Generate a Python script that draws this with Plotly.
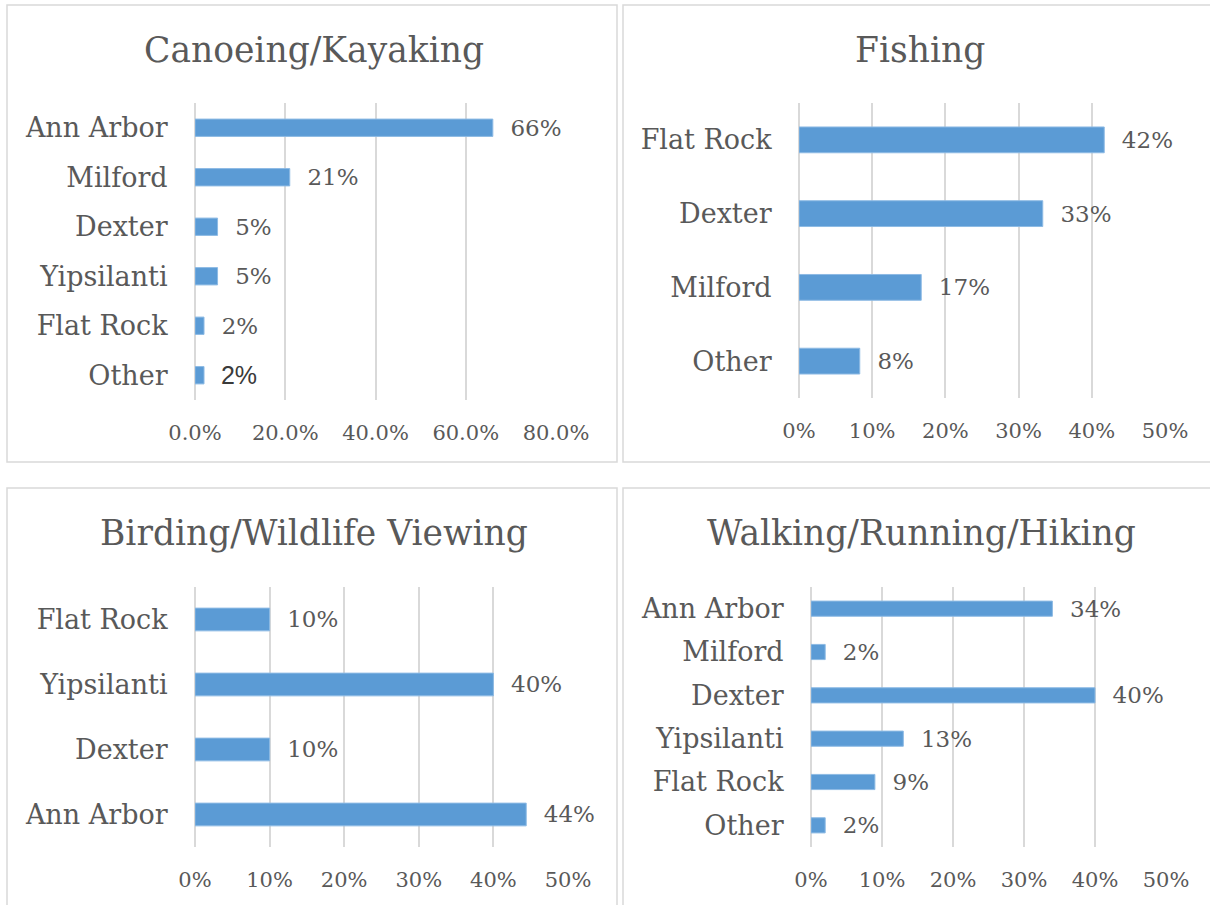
import plotly.graph_objects as go

W, H = 1210, 905

# ---- data ----
canoe_places = ["Ann Arbor", "Milford", "Dexter", "Yipsilanti", "Flat Rock", "Other"]
canoe_values = [0.66, 0.21, 0.05, 0.05, 0.02, 0.02]
canoe_ticks = [0, 0.2, 0.4, 0.6, 0.8]
canoe_ticktext = ["0.0%", "20.0%", "40.0%", "60.0%", "80.0%"]

fish_places = ["Flat Rock", "Dexter", "Milford", "Other"]
fish_values = [0.417, 0.333, 0.167, 0.083]

bird_places = ["Flat Rock", "Yipsilanti", "Dexter", "Ann Arbor"]
bird_values = [0.10, 0.40, 0.10, 0.444]

walk_places = ["Ann Arbor", "Milford", "Dexter", "Yipsilanti", "Flat Rock", "Other"]
walk_values = [0.34, 0.02, 0.40, 0.13, 0.09, 0.02]

pct_ticks = [0, 0.1, 0.2, 0.3, 0.4, 0.5]
pct_ticktext = ["0%", "10%", "20%", "30%", "40%", "50%"]

titles = ["Canoeing/Kayaking", "Fishing", "Birding/Wildlife Viewing", "Walking/Running/Hiking"]

# ---- style ----
SERIF = "DejaVu Serif"
TEXT = "#595959"
BAR = "#5b9bd5"
GRID = "#d9d9d9"


def px_x(v):
    return v / W


def px_y(v):
    return 1 - v / H


def add_panel(fig, idx, places, values, xdom, ydom, tickvals, ticktext, xmax,
              text_family=None, text_color=None, text_size=None):
    sfx = "" if idx == 1 else str(idx)
    n = len(places)
    fig.add_trace(
        go.Bar(
            x=values,
            y=places,
            orientation="h",
            width=0.35,
            marker_color=BAR,
            marker_line_color="#8dbae4",
            marker_line_width=1,
            texttemplate="\u00a0\u00a0%{x:.0%}",
            textposition="outside",
            constraintext="none",
            cliponaxis=False,
            textfont=dict(
                family=text_family or SERIF,
                color=text_color or TEXT,
                size=text_size or 23,
            ),
            showlegend=False,
            hoverinfo="skip",
            xaxis="x" + sfx,
            yaxis="y" + sfx,
        )
    )
    fig.layout["xaxis" + sfx] = dict(
        domain=[px_x(xdom[0]), px_x(xdom[1])],
        anchor="y" + sfx,
        range=[0, xmax],
        tickvals=tickvals,
        ticktext=ticktext,
        showgrid=True,
        gridcolor=GRID,
        gridwidth=1.5,
        zeroline=True,
        zerolinecolor=GRID,
        zerolinewidth=1.5,
        showline=False,
        automargin=False,
        ticks="outside",
        ticklen=14,
        tickcolor="rgba(0,0,0,0)",
        tickfont=dict(family=SERIF, size=21, color=TEXT),
        fixedrange=True,
    )
    fig.layout["yaxis" + sfx] = dict(
        domain=[px_y(ydom[1]), px_y(ydom[0])],
        anchor="x" + sfx,
        type="category",
        range=[n - 0.5, -0.5],
        showgrid=False,
        zeroline=False,
        showline=False,
        automargin=False,
        ticks="outside",
        ticklen=21,
        tickcolor="rgba(0,0,0,0)",
        tickfont=dict(family=SERIF, size=27, color=TEXT),
        fixedrange=True,
    )


fig = go.Figure()

add_panel(fig, 1, canoe_places, canoe_values, (195, 556), (103, 400),
          canoe_ticks, canoe_ticktext, 0.8,
          text_family=[SERIF] * 5 + ["Liberation Sans"],
          text_color=[TEXT] * 5 + ["#3a3a3a"],
          text_size=[23] * 5 + [25])
add_panel(fig, 2, fish_places, fish_values, (799, 1165), (103, 398),
          pct_ticks, pct_ticktext, 0.5)
add_panel(fig, 3, bird_places, bird_values, (195, 568), (587, 847),
          pct_ticks, pct_ticktext, 0.5)
add_panel(fig, 4, walk_places, walk_values, (811, 1166), (587, 847),
          pct_ticks, pct_ticktext, 0.5)

# panel frames
frames = [(7, 5, 617, 462), (623, 5, 1214, 462), (7, 488, 617, 910), (623, 488, 1214, 910)]
for x0, y0, x1, y1 in frames:
    fig.add_shape(
        type="rect", xref="paper", yref="paper",
        x0=px_x(x0), x1=px_x(x1), y0=px_y(y1), y1=px_y(y0),
        line=dict(color=GRID, width=1.5), fillcolor="rgba(0,0,0,0)",
        layer="below",
    )

title_pos = [(314, 50), (920, 50), (314, 533), (921, 533)]
for text, (tx, ty) in zip(titles, title_pos):
    fig.add_annotation(
        x=px_x(tx), y=px_y(ty), xref="paper", yref="paper",
        text=text, showarrow=False, xanchor="center", yanchor="middle",
        font=dict(family=SERIF, size=34.5, color=TEXT),
    )

fig.update_layout(
    width=W,
    height=H,
    margin=dict(l=0, r=0, t=0, b=0, autoexpand=False),
    paper_bgcolor="white",
    plot_bgcolor="white",
    barmode="overlay",
)

fig.write_html(
    "out.html",
    config={"displayModeBar": False},
    post_script="document.body.style.margin='0px';",
)
